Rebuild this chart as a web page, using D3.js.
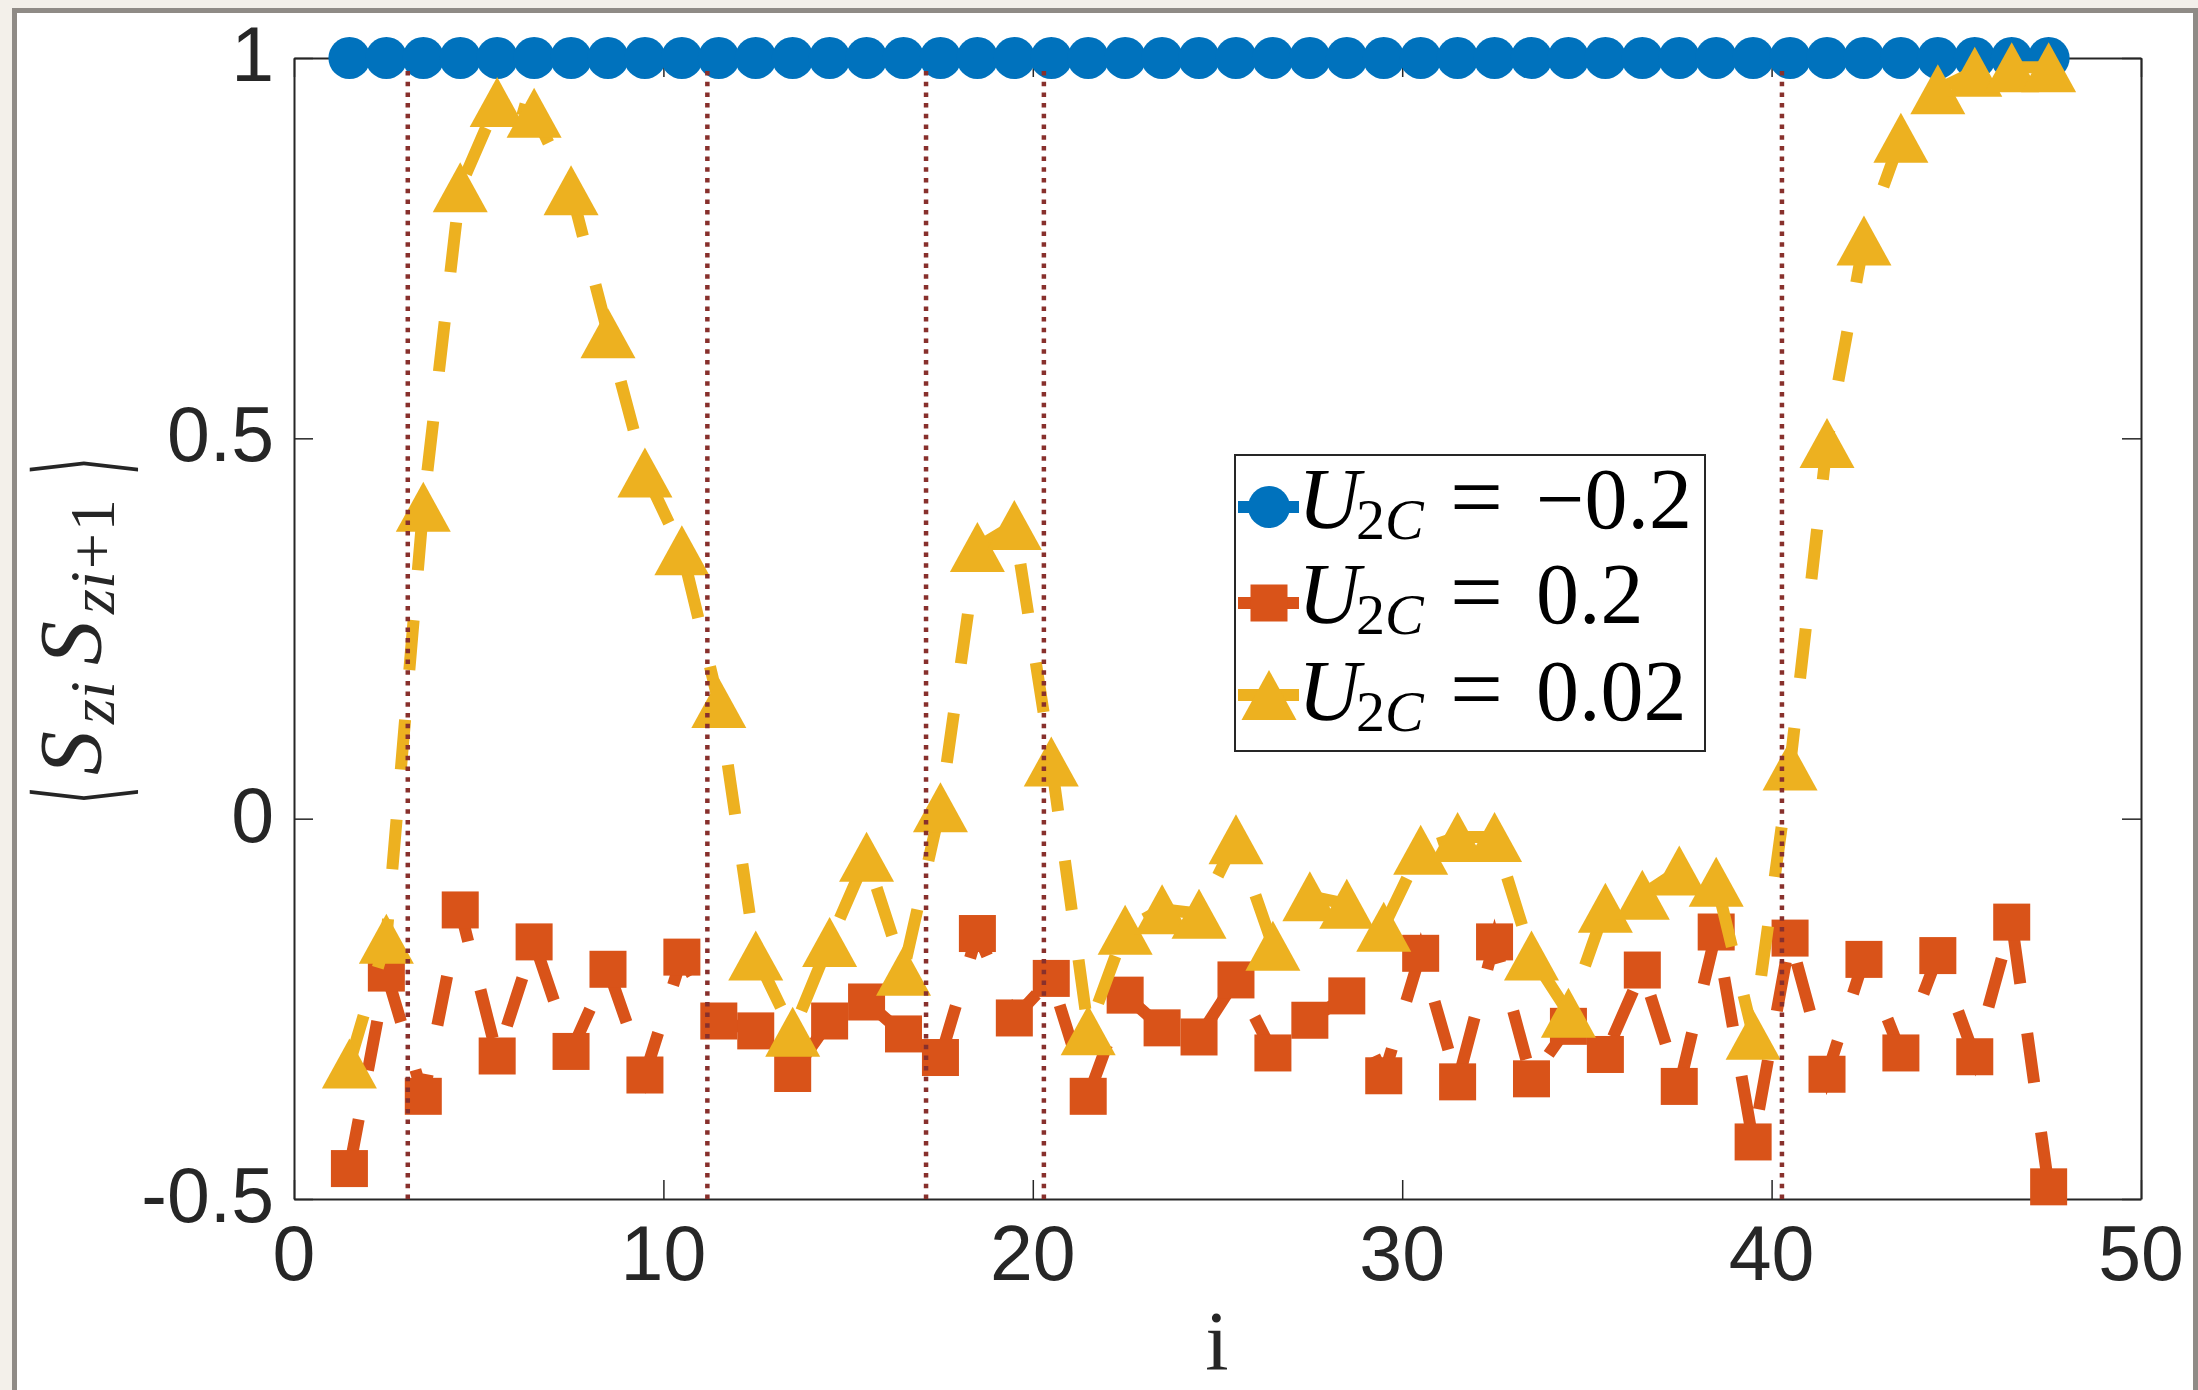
<!DOCTYPE html>
<html>
<head>
    <title>Spin correlation along the chain</title>
    <script src="https://d3js.org/d3.v7.min.js"></script>
    <style>
        body { margin: 0; background: #f3f0ea; }
    </style>
</head>
<body>
    <script>
        // site index i
        const sites = [1.5, 2.5, 3.5, 4.5, 5.5, 6.5, 7.5, 8.5, 9.5, 10.5, 11.5, 12.5, 13.5, 14.5, 15.5, 16.5,
                       17.5, 18.5, 19.5, 20.5, 21.5, 22.5, 23.5, 24.5, 25.5, 26.5, 27.5, 28.5, 29.5, 30.5, 31.5,
                       32.5, 33.5, 34.5, 35.5, 36.5, 37.5, 38.5, 39.5, 40.5, 41.5, 42.5, 43.5, 44.5, 45.5, 46.5, 47.5];

        // U2C = -0.2
        const uNeg02 = [1, 1, 1, 1, 1, 1, 1, 1, 1, 1, 1, 1, 1, 1, 1, 1,
                        1, 1, 1, 1, 1, 1, 1, 1, 1, 1, 1, 1, 1, 1, 1,
                        1, 1, 1, 1, 1, 1, 1, 1, 1, 1, 1, 1, 1, 1, 1, 1];

        // U2C = 0.2
        const uPos02 = [-0.46, -0.203, -0.365, -0.12, -0.312, -0.162, -0.306, -0.198, -0.337, -0.182, -0.266,
                        -0.279, -0.335, -0.266, -0.241, -0.283, -0.314, -0.151, -0.262, -0.21, -0.365, -0.232,
                        -0.275, -0.287, -0.212, -0.308, -0.265, -0.233, -0.338, -0.177, -0.346, -0.162, -0.342,
                        -0.273, -0.31, -0.199, -0.352, -0.149, -0.425, -0.157, -0.336, -0.185, -0.308, -0.18,
                        -0.313, -0.136, -0.484];

        // U2C = 0.02
        const uPos002 = [-0.322, -0.158, 0.41, 0.83, 0.942, 0.928, 0.826, 0.638, 0.455, 0.353, 0.152,
                         -0.18, -0.28, -0.162, -0.05, -0.2, 0.015, 0.357, 0.386, 0.075, -0.278, -0.146,
                         -0.119, -0.125, -0.027, -0.167, -0.102, -0.112, -0.142, -0.041, -0.024, -0.024, -0.18,
                         -0.255, -0.117, -0.1, -0.068, -0.083, -0.284, 0.07, 0.494, 0.76, 0.895, 0.959,
                         0.982, 0.988, 0.988];

        // dotted markers (positions on i)
        const dottedAt = [3.08, 11.19, 17.11, 20.3, 40.28];
        const dottedTop = 0.99;

        const xTicks = [0, 10, 20, 30, 40, 50];
        const yTicks = [-0.5, 0, 0.5, 1];

        const series = [
            {name: "neg", values: uNeg02, color: "#0072BD", marker: "circle", value: "\u22120.2"},
            {name: "pos", values: uPos02, color: "#D95319", marker: "square", value: "0.2"},
            {name: "small", values: uPos002, color: "#EDB120", marker: "triangle", value: "0.02"}
        ];

        const W = 2198, H = 1390;
        const margin = {top: 58, right: 57, bottom: 191, left: 294},
            width = W - margin.left - margin.right,
            height = H - margin.top - margin.bottom;

        const svg0 = d3.select("body")
          .append("svg")
            .attr("width", W)
            .attr("height", H)
            .style("display", "block");

        // outer page frame
        svg0.append("rect")
            .attr("x", 0).attr("y", 0).attr("width", W).attr("height", H)
            .attr("fill", "#f3f0ea");
        svg0.append("rect")
            .attr("x", 14.5).attr("y", 10.5)
            .attr("width", 2181).attr("height", 1420)
            .attr("fill", "#ffffff")
            .attr("stroke", "#8f8b86")
            .attr("stroke-width", 5);

        const svg = svg0.append("g")
            .attr("transform", `translate(${margin.left},${margin.top})`);

        const x = d3.scaleLinear().domain([0, 50]).range([0, width]);
        const y = d3.scaleLinear().domain([-0.5, 1]).range([height, 0]);

        const axisColor = "#262626";
        const tickLen = 19;

        // axes box with inward ticks on all sides
        function styleAxis(g) {
            g.select(".domain").attr("stroke", axisColor).attr("stroke-width", 2);
            g.selectAll(".tick line").attr("stroke", axisColor).attr("stroke-width", 1.5);
            g.selectAll(".tick text").remove();
        }
        svg.append("g").attr("transform", `translate(0,${height})`)
            .call(d3.axisBottom(x).tickValues(xTicks).tickSizeInner(-tickLen).tickSizeOuter(0))
            .call(styleAxis);
        svg.append("g")
            .call(d3.axisTop(x).tickValues(xTicks).tickSizeInner(-tickLen).tickSizeOuter(0))
            .call(styleAxis);
        svg.append("g")
            .call(d3.axisLeft(y).tickValues(yTicks).tickSizeInner(-tickLen).tickSizeOuter(0))
            .call(styleAxis);
        svg.append("g").attr("transform", `translate(${width},0)`)
            .call(d3.axisRight(y).tickValues(yTicks).tickSizeInner(-tickLen).tickSizeOuter(0))
            .call(styleAxis);

        // tick labels
        const tickFont = "'Liberation Sans', Arial, Helvetica, sans-serif";
        svg.selectAll(".xlab")
          .data(xTicks)
          .enter()
          .append("text")
            .attr("x", d => x(d))
            .attr("y", height + 81)
            .attr("text-anchor", "middle")
            .style("font-family", tickFont)
            .style("font-size", "77px")
            .style("fill", axisColor)
            .text(d => d);
        svg.selectAll(".ylab")
          .data(yTicks)
          .enter()
          .append("text")
            .attr("x", -20)
            .attr("y", d => y(d) + 23)
            .attr("text-anchor", "end")
            .style("font-family", tickFont)
            .style("font-size", "77px")
            .style("fill", axisColor)
            .text(d => d);

        // marker shapes
        function drawMarker(sel, type, color) {
            if (type === "circle") {
                sel.append("circle").attr("r", 21).attr("fill", color);
            } else if (type === "square") {
                sel.append("rect").attr("x", -18.5).attr("y", -18.5)
                    .attr("width", 37).attr("height", 37).attr("fill", color);
            } else {
                sel.append("path").attr("d", "M0,-25L27.5,25L-27.5,25Z").attr("fill", color);
            }
        }

        const line = d3.line()
            .x((d, i) => x(sites[i]))
            .y(d => y(d));

        series.forEach(function(s) {
            svg.append("path")
              .datum(s.values)
              .attr("fill", "none")
              .attr("stroke", s.color)
              .attr("stroke-width", 12)
              .attr("stroke-dasharray", "50,50")
              .attr("d", line);

            svg.selectAll(".m-" + s.name)
              .data(s.values)
              .enter()
              .append("g")
                .attr("transform", (d, i) => `translate(${x(sites[i])},${y(d)})`)
                .each(function() { drawMarker(d3.select(this), s.marker, s.color); });
        });

        // dotted vertical lines on top
        svg.selectAll(".vline")
          .data(dottedAt)
          .enter()
          .append("line")
            .attr("x1", d => x(d)).attr("x2", d => x(d))
            .attr("y1", y(-0.5)).attr("y2", y(dottedTop))
            .attr("stroke", "#88302c")
            .attr("stroke-width", 4.5)
            .attr("stroke-dasharray", "4.5,6.2");

        // legend
        const mathFont = "'Liberation Serif', 'Times New Roman', serif";
        const lg = svg0.append("g");
        lg.append("rect")
            .attr("x", 1235).attr("y", 455)
            .attr("width", 470).attr("height", 296)
            .attr("fill", "#ffffff")
            .attr("stroke", axisColor)
            .attr("stroke-width", 2);

        const rowY = [507, 603, 695];
        const rowBase = [528, 623, 720];
        series.forEach(function(s, k) {
            lg.append("line")
                .attr("x1", 1238).attr("x2", 1299)
                .attr("y1", rowY[k]).attr("y2", rowY[k])
                .attr("stroke", s.color)
                .attr("stroke-width", 12);
            const m = lg.append("g").attr("transform", `translate(1269,${rowY[k]})`);
            drawMarker(m, s.marker, s.color);

            const t = lg.append("text")
                .attr("y", rowBase[k])
                .style("font-family", mathFont)
                .style("fill", "#000");
            t.append("tspan").attr("x", 1298).style("font-style", "italic").style("font-size", "86px").text("U");
            t.append("tspan").attr("x", 1356).attr("dy", 11).style("font-size", "58px").text("2");
            t.append("tspan").style("font-style", "italic").style("font-size", "58px").text("C");
            t.append("tspan").attr("x", 1450).attr("dy", -11).style("font-size", "94px").text("=");
            t.append("tspan").attr("x", 1536).style("font-size", "86px").text(s.value);
        });

        // x axis title
        svg0.append("text")
            .attr("x", 1217)
            .attr("y", 1370)
            .attr("text-anchor", "middle")
            .style("font-family", mathFont)
            .style("font-size", "84px")
            .style("fill", axisColor)
            .text("i");

        // y axis title, written along the rotated baseline
        const yl = svg0.append("g")
            .attr("transform", "translate(100,628) rotate(-90)")
            .style("fill", axisColor)
            .style("font-family", mathFont);
        yl.append("text")
            .attr("transform", "translate(-176,-20) scale(0.7,1.9)")
            .attr("dominant-baseline", "central")
            .style("font-family", "'DejaVu Sans', sans-serif")
            .style("font-size", "64px")
            .text("\u27E8");
        yl.append("text")
            .attr("x", -147).attr("y", 0)
            .style("font-style", "italic").style("font-size", "88px")
            .text("S");
        yl.append("text")
            .attr("x", -96).attr("y", 14)
            .style("font-style", "italic").style("font-size", "64px")
            .text("zi");
        yl.append("text")
            .attr("x", -37).attr("y", 0)
            .style("font-style", "italic").style("font-size", "88px")
            .text("S");
        const sub2 = yl.append("text")
            .attr("x", 14).attr("y", 14)
            .style("font-size", "64px");
        sub2.append("tspan").style("font-style", "italic").text("zi");
        sub2.append("tspan").attr("dx", 2).text("+");
        sub2.append("tspan").attr("dx", 2).text("1");
        yl.append("text")
            .attr("transform", "translate(153,-20) scale(0.7,1.9)")
            .attr("dominant-baseline", "central")
            .style("font-family", "'DejaVu Sans', sans-serif")
            .style("font-size", "64px")
            .text("\u27E9");
    </script>
</body>
</html>
